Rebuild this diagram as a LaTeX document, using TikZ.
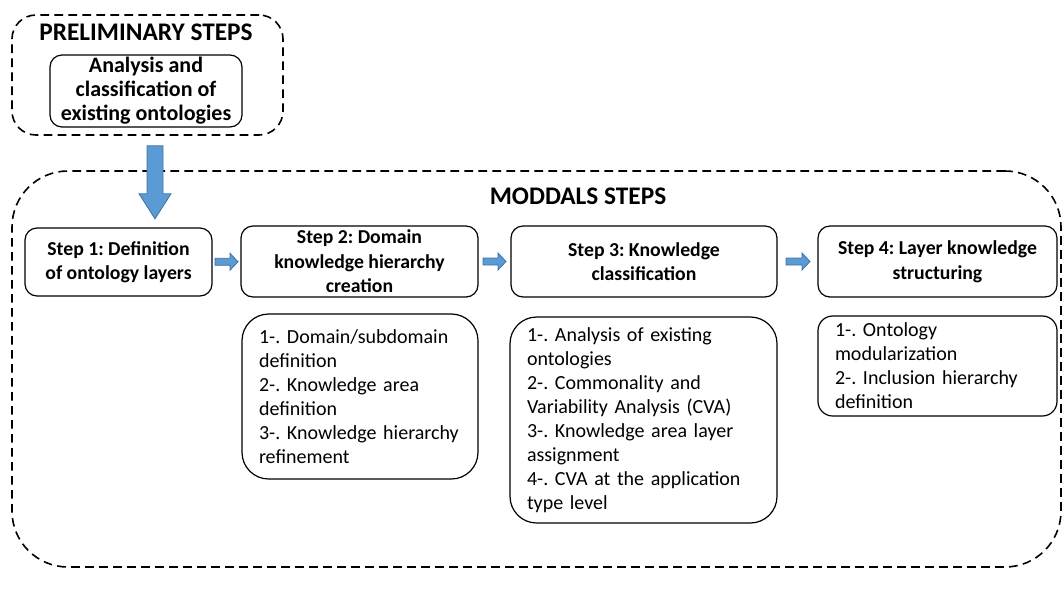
\documentclass[tikz,border=0pt]{standalone}
\usepackage{fontspec}
\setmainfont{Carlito}
\usetikzlibrary{calc}
\definecolor{arrowblue}{HTML}{5B9BD5}
\definecolor{arrowedge}{HTML}{41719C}
\frenchspacing
\hyphenpenalty=10000
\tikzset{
  dashbox/.style={draw=black, line width=1.2pt, dash pattern=on 6.5pt off 4pt, rounded corners=#1},
  stepbox/.style={draw=black, line width=0.9pt, rounded corners=9pt, align=center,
     font=\fontsize{14.8}{18.4}\selectfont\bfseries, inner sep=0pt},
  listbox/.style={draw=black, line width=0.9pt, align=left, inner xsep=12.75pt, inner ysep=0pt,
     font=\fontsize{15}{18}\selectfont},
  bigtitle/.style={font=\fontsize{19}{22}\selectfont\bfseries, inner sep=0pt},
  pics/barrow/.style n args={4}{code={
     \filldraw[fill=arrowblue, draw=arrowedge, line width=0.6pt]
       (0,-#2/2) -- (#1-#4,-#2/2) -- (#1-#4,-#3/2) -- (#1,0) -- (#1-#4,#3/2) -- (#1-#4,#2/2) -- (0,#2/2) -- cycle;}}
}
\begin{document}
\begin{tikzpicture}[x=0.75pt,y=-0.75pt]
\useasboundingbox (0,0) rectangle (1063,597);
% preliminary
\node[dashbox=18pt, minimum width=203.25pt, minimum height=90pt] (prelim) at (147.5,75) {};
\node[bigtitle] (prelimtitle) at (146,32) {PRELIMINARY STEPS};
\node[stepbox, font=\fontsize{16.5}{18}\selectfont\bfseries, minimum width=144pt, minimum height=54pt] (analysis) at (146,91) {Analysis and\\classification of\\existing ontologies};
% moddals
\node[dashbox=42pt, minimum width=786.75pt, minimum height=297pt] (moddals) at (536.5,369) {};
\node[bigtitle] (moddalstitle) at (578,196) {MODDALS STEPS};
% steps
\node[stepbox, minimum width=140.25pt, minimum height=51pt] (s1) at (118.5,262) {Step 1: Definition\\of ontology layers};
\node[stepbox, minimum width=177.75pt, minimum height=53.25pt] (s2) at (359.5,261.5) {Step 2: Domain\\knowledge hierarchy\\creation};
\node[stepbox, minimum width=199.5pt, minimum height=53.25pt] (s3) at (644,261.5) {Step 3: Knowledge\\classification};
\node[stepbox, minimum width=179.25pt, minimum height=53.25pt] (s4) at (937.5,261.5) {Step 4: Layer knowledge\\structuring};
% lists
\node[listbox, rounded corners=20pt, text width=151.5pt, minimum height=123.75pt] (d2) at (360,396.5)
  {1-.~Domain/subdomain\\definition\\2-.~Knowledge~area\\definition\\3-.~Knowledge~hierarchy\\refinement};
\node[listbox, rounded corners=20pt, text width=174.75pt, minimum height=154.5pt] (d3) at (643.5,420)
  {1-.~Analysis~of~existing\\ontologies\\2-.~Commonality~and\\Variability~Analysis~(CVA)\\3-.~Knowledge~area~layer\\assignment\\4-.~CVA~at~the~application\\type level};
\node[listbox, rounded corners=11pt, text width=153.75pt, minimum height=75pt] (d4) at (937.5,366)
  {1-.~Ontology\\modularization\\2-.~Inclusion~hierarchy\\definition};
% arrows
\coordinate (dstart) at ($(prelim.south)+(7.5,10)$);
\pic[rotate=-90] at (dstart) {barrow={73}{16}{32}{25}};
\coordinate (a1) at ($(s1.east)!0.5!(s2.west)+(-11.5,0)$);
\pic at (a1) {barrow={23}{7}{17}{8}};
\coordinate (a2) at ($(s2.east)!0.5!(s3.west)+(-11.5,0)$);
\pic at (a2) {barrow={23}{7}{17}{8}};
\coordinate (a3) at ($(s3.east)!0.5!(s4.west)+(-11.5,0)$);
\pic at (a3) {barrow={24}{7}{17}{8}};
\end{tikzpicture}
\end{document}
